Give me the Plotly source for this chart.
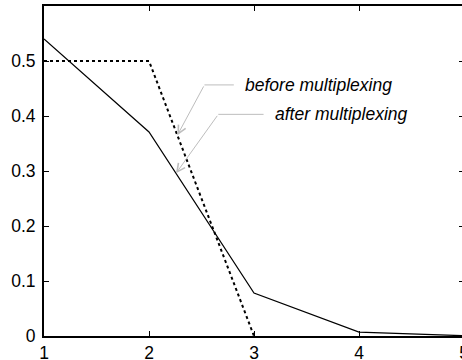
import plotly.graph_objects as go

# Distribution of the number of packets per slot
slots = [1, 2, 3, 4, 5]
before_x = [1, 2, 3]
before_y = [0.5, 0.5, 0.0]
after_y = [0.54, 0.371, 0.078, 0.007, 0.0005]

x_ticks = [1, 2, 3, 4, 5]
y_ticks = [0, 0.1, 0.2, 0.3, 0.4, 0.5]
y_tick_text = ["0", "0.1", "0.2", "0.3", "0.4", "0.5"]

FONT = "Liberation Sans, Arial, Helvetica, sans-serif"
GREY = "#bdbdbd"

fig = go.Figure()
fig.add_trace(go.Scatter(x=before_x, y=before_y, mode="lines",
                         line=dict(color="black", width=2, dash="dot"),
                         name="before multiplexing"))
fig.add_trace(go.Scatter(x=slots, y=after_y, mode="lines",
                         line=dict(color="black", width=1.2),
                         name="after multiplexing"))

# callout labels: text, horizontal leader, then a slanted arrow to the curve
callouts = [
    # text, text x, leader y, elbow x, tip x, tip y
    ("before multiplexing", 2.898, 0.4565, 2.528, 2.27, 0.5 - 0.5 * 0.27),
    ("after multiplexing", 3.181, 0.403, 2.66, 2.257,
     after_y[1] + (after_y[2] - after_y[1]) * 0.257),
]
for text, tx, ly, ex, px, py in callouts:
    fig.add_shape(type="line", x0=ex, x1=tx - 0.09, y0=ly, y1=ly,
                  xref="x", yref="y", line=dict(color=GREY, width=1))
    fig.add_annotation(x=px, y=py, ax=ex, ay=ly, axref="x", ayref="y",
                       xref="x", yref="y", text="", showarrow=True,
                       arrowhead=5, arrowsize=1.6, arrowwidth=1,
                       arrowcolor=GREY, standoff=0)
    fig.add_annotation(x=tx, y=ly, xref="x", yref="y", text=f"<i>{text}</i>",
                       showarrow=False, xanchor="left", yanchor="middle",
                       font=dict(family=FONT, size=17.5, color="black"))

fig.update_xaxes(range=[1, 5], tickvals=x_ticks, ticktext=[str(v) for v in x_ticks],
                 ticks="inside", ticklen=5, tickwidth=1, tickcolor="black",
                 showline=True, linecolor="black", linewidth=2, mirror="ticks",
                 showgrid=False, zeroline=False, ticklabeloverflow="allow",
                 ticklabelstandoff=0, automargin=False,
                 tickfont=dict(family=FONT, size=17.5, color="black"))
fig.update_yaxes(range=[0, 0.6], tickvals=y_ticks, ticktext=y_tick_text,
                 ticks="inside", ticklen=5, tickwidth=1, tickcolor="black",
                 showline=True, linecolor="black", linewidth=2, mirror="ticks",
                 showgrid=False, zeroline=False, ticklabeloverflow="allow",
                 ticklabelstandoff=3, automargin=False,
                 tickfont=dict(family=FONT, size=17.5, color="black"))

fig.update_layout(width=464, height=360, showlegend=False,
                  margin=dict(l=44, r=0, t=6, b=24, pad=0),
                  plot_bgcolor="white", paper_bgcolor="white")

fig.write_html("out.html",
               post_script="document.documentElement.style.overflow='hidden';"
                           "document.body.style.overflow='hidden';"
                           "document.body.style.margin='0';")
